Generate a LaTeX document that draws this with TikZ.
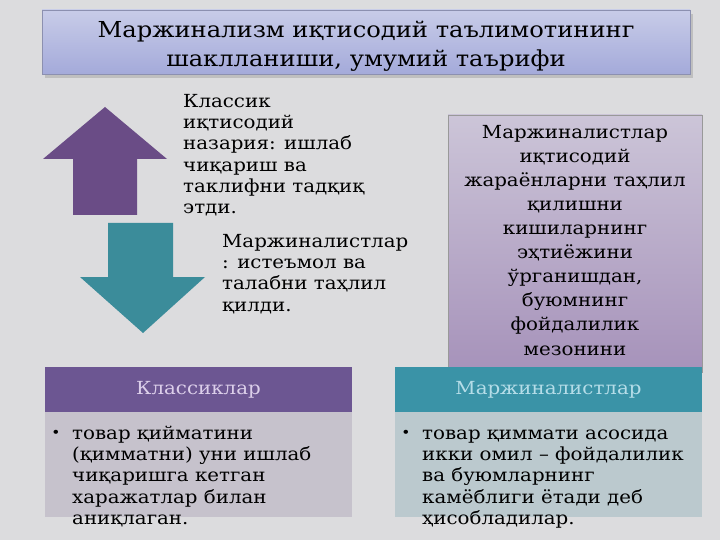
\documentclass[tikz,border=0pt]{standalone}
\usepackage{fontspec}
\setmainfont[FakeStretch=1.1]{DejaVu Serif}
\definecolor{bgc}{HTML}{DCDCDE}
\definecolor{titletop}{HTML}{C8CCE8}
\definecolor{titlebot}{HTML}{A4AADA}
\definecolor{titleline}{HTML}{8C90B0}
\definecolor{upcol}{HTML}{6A4C86}
\definecolor{downcol}{HTML}{3B8C9A}
\definecolor{rbtop}{HTML}{CCC5D8}
\definecolor{rbbot}{HTML}{A692BA}
\definecolor{lhead}{HTML}{6C5692}
\definecolor{lheadtxt}{HTML}{DCCFEA}
\definecolor{lbody}{HTML}{C6C2CC}
\definecolor{rhead}{HTML}{3A93A7}
\definecolor{rheadtxt}{HTML}{B5DDE8}
\definecolor{rbody}{HTML}{BBC9CE}
\tikzset{
  txt/.style={inner sep=0pt, font=\fontsize{18}{21.3}\selectfont, align=left, anchor=north west, text=black},
  headtxt/.style={inner sep=0pt, font=\fontsize{18}{21.3}\selectfont},
  bul/.style={inner sep=0pt, font=\fontsize{14}{16}\selectfont, anchor=base},
}
\begin{document}
\begin{tikzpicture}[x=1pt,y=-1pt]
\useasboundingbox (0,0) rectangle (720,540);
\fill[bgc] (0,0) rectangle (720,540);
% title
\fill[black!25] (45,14) rectangle (693,78);
\shade[top color=titletop, bottom color=titlebot, draw=titleline] (42,10) rectangle (690,74);
\node[inner sep=0pt, anchor=north, align=center, font=\fontsize{22}{29}\selectfont] (title) at (366,16.7)
  {\strut Маржинализм иқтисодий таълимотининг\\шаклланиши, умумий таърифи};
% arrows
\fill[upcol] (105,107) -- (167,159) -- (137,159) -- (137,215) -- (73,215) -- (73,159) -- (43,159) -- cycle;
\fill[downcol] (143,333) -- (205,277) -- (173,277) -- (173,223) -- (108,223) -- (108,277) -- (80,277) -- cycle;
\node[txt] (classic) at (183,92.1) {\strut Классик\\иқтисодий\\назария: ишлаб\\чиқариш ва\\таклифни тадқиқ\\этди.};
\node[txt] (marg) at (222,232.1) {\strut Маржиналистлар\\: истеъмол ва\\талабни таҳлил\\қилди.};
% right box
\shade[top color=rbtop, bottom color=rbbot, draw=black!40] (448,115) rectangle (702,372);
\node[inner sep=0pt, anchor=north, align=center, font=\fontsize{18}{24.1}\selectfont] (rtext) at (575,121.1)
  {\strut Маржиналистлар\\иқтисодий\\жараёнларни таҳлил\\қилишни\\кишиларнинг\\эҳтиёжини\\ўрганишдан,\\буюмнинг\\фойдалилик\\мезонини};
% bottom left
\fill[lbody] (45,412) rectangle (352,517);
\fill[lhead] (45,367) rectangle (352,412);
\node[headtxt, text=lheadtxt] (lh) at (198.5,390) {Классиклар};
\node[bul] (lb) at (56,437) {•};
\node[txt] (lt) at (72,424.1) {\strut товар қийматини\\(қимматни) уни ишлаб\\чиқаришга кетган\\харажатлар билан\\аниқлаган.};
% bottom right
\fill[rbody] (395,412) rectangle (702,517);
\fill[rhead] (395,367) rectangle (702,412);
\node[headtxt, text=rheadtxt] (rh) at (548.5,390) {Маржиналистлар};
\node[bul] (rb) at (406,437) {•};
\node[txt] (rt) at (422,424.1) {\strut товар қиммати асосида\\икки омил -- фойдалилик\\ва буюмларнинг\\камёблиги ётади деб\\ҳисобладилар.};
\end{tikzpicture}
\end{document}
